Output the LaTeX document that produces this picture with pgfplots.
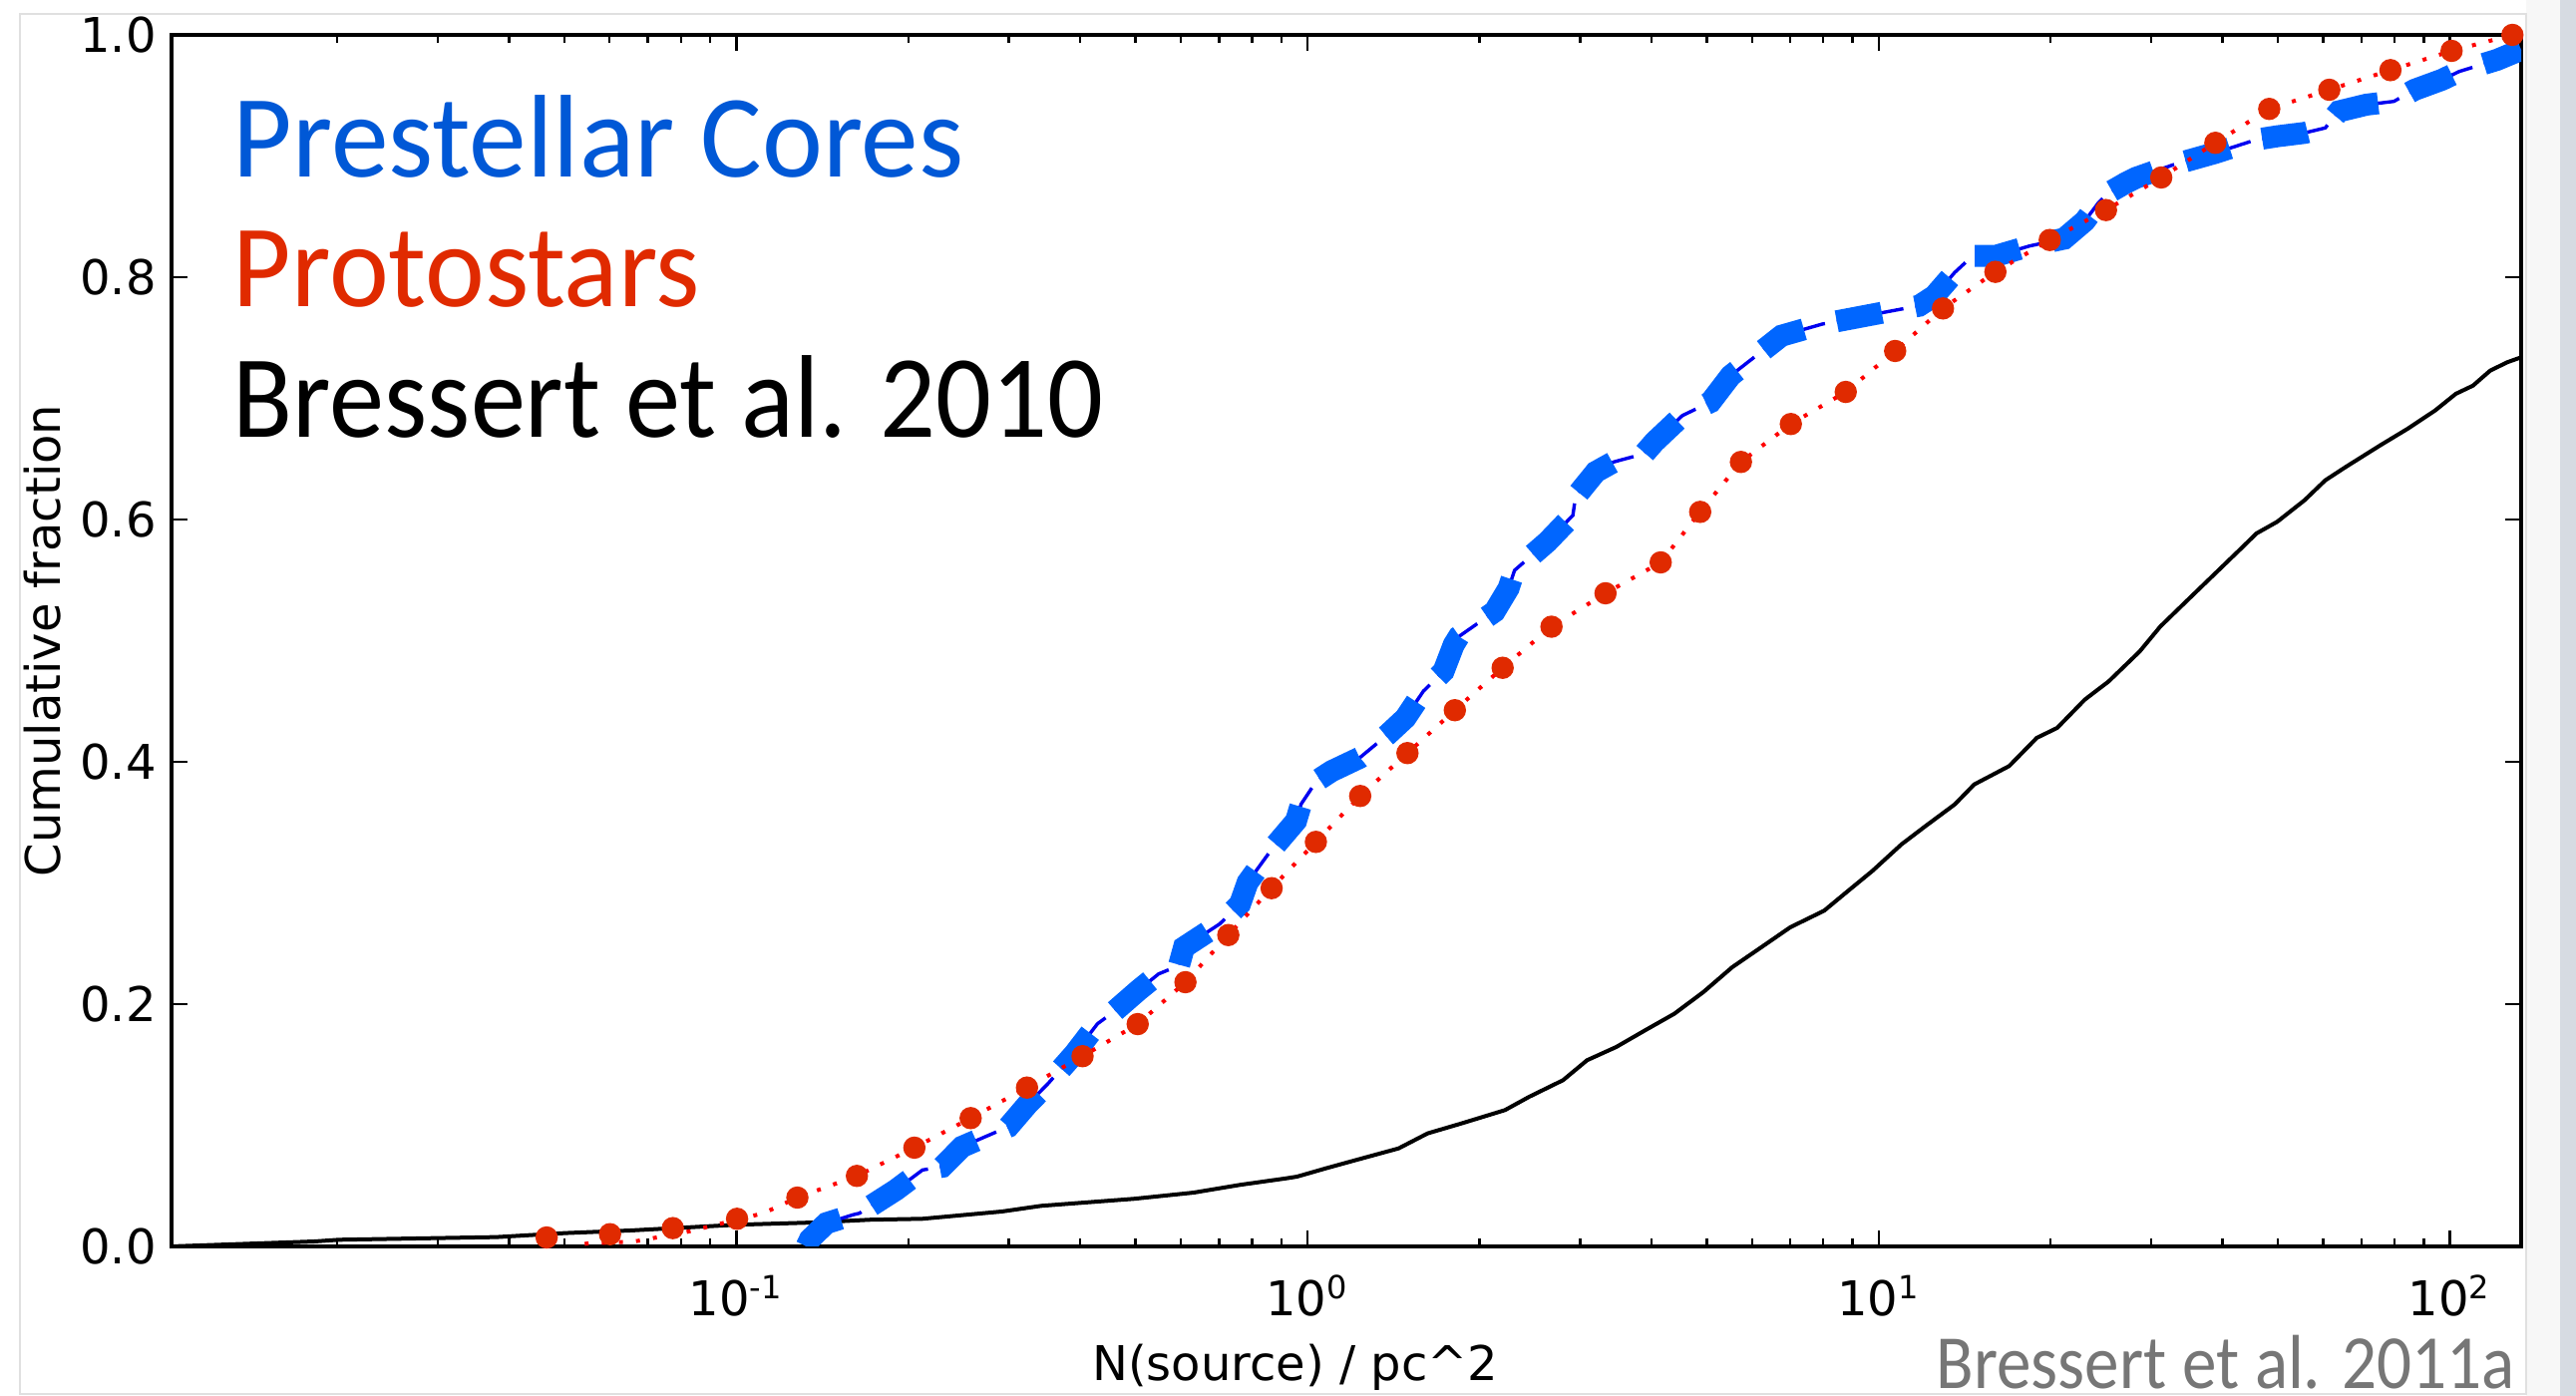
\documentclass[border=0pt]{standalone}
\usepackage{pgfplots}
\pgfplotsset{compat=1.18}
\usepackage{pgfplotstable}
\usepackage{fontspec}
\setmainfont{DejaVu Sans}
\newfontfamily\gill{Carlito}
\definecolor{protored}{RGB}{224,42,0}
\definecolor{presblue}{RGB}{0,88,214}
\definecolor{thickblue}{RGB}{0,102,255}
\definecolor{thinblue}{RGB}{0,0,240}
\definecolor{credgray}{RGB}{118,118,118}
\definecolor{stripgray}{RGB}{214,219,226}

\pgfplotstableread{
x y
0.01026 0.0
0.01825 0.0041
0.02017 0.0055
0.03801 0.0077
0.05013 0.0110
0.06548 0.0132
0.1003 0.0179
0.1381 0.0198
0.1710 0.0220
0.2118 0.0228
0.2916 0.0288
0.3421 0.0335
0.4971 0.0393
0.6318 0.0444
0.7619 0.0508
0.9182 0.0562
0.9587 0.0576
1.076 0.0644
1.1881 0.0700
1.4437 0.0809
1.6232 0.0933
1.8601 0.1015
2.2165 0.1125
2.4443 0.1235
2.8013 0.1372
3.0872 0.1537
3.4715 0.1646
3.9020 0.1784
4.3862 0.1920
4.9318 0.2099
5.5428 0.2305
6.2294 0.2469
7.0019 0.2634
8.0262 0.2771
8.8473 0.2936
9.7544 0.3100
10.965 0.3319
12.091 0.3471
13.594 0.3649
14.697 0.3813
16.924 0.3965
18.92 0.4198
20.54 0.4280
22.95 0.4513
25.28 0.4664
28.64 0.4911
31.13 0.5117
34.76 0.5336
39.39 0.5583
42.80 0.5747
45.86 0.5885
49.85 0.5981
55.67 0.6159
60.50 0.6323
65.74 0.6434
75.52 0.6612
84.36 0.6749
94.25 0.6900
102.40 0.7037
109.77 0.7105
117.66 0.7229
126.07 0.7298
133.3 0.7339
}\bressert

\pgfplotstableread{
x y
0.1327 0.0
0.1345 0.0058
0.1438 0.0192
0.1600 0.0261
0.1643 0.0274
0.1904 0.0467
0.2118 0.0631
0.2294 0.0658
0.2485 0.0823
0.2995 0.0988
0.3244 0.1179
0.3514 0.1344
0.3910 0.1591
0.4289 0.1838
0.4573 0.1934
0.5055 0.2113
0.5486 0.2249
0.5956 0.2318
0.6079 0.2469
0.7017 0.2661
0.7619 0.2826
0.7856 0.3004
0.8617 0.3265
0.9548 0.3512
0.9741 0.3649
1.0364 0.3841
1.1022 0.3923
1.2340 0.4033
1.3813 0.4225
1.4843 0.4362
1.5946 0.4582
1.7306 0.4747
1.8032 0.4966
1.8408 0.5034
2.1261 0.5240
2.2490 0.5432
2.3036 0.5580
2.6305 0.5816
2.9151 0.6035
2.9457 0.6187
3.1972 0.6393
3.4356 0.6475
3.8858 0.6543
4.0487 0.6640
4.5320 0.6858
5.0755 0.6969
5.5081 0.7188
6.1023 0.7352
6.7608 0.7517
7.9653 0.7613
10.195 0.7709
11.769 0.7764
12.518 0.7846
13.588 0.8039
14.596 0.8175
16.01 0.8175
18.39 0.8258
21.12 0.8318
22.95 0.8463
24.26 0.8615
25.28 0.8697
27.10 0.8779
28.25 0.8821
32.89 0.8930
38.86 0.9026
45.86 0.9136
49.85 0.9163
55.67 0.9191
60.50 0.9232
63.95 0.9369
71.45 0.9424
79.80 0.9451
86.77 0.9547
96.92 0.9630
103.85 0.9698
120.93 0.9794
133.3 0.9877
}\prestellar

\pgfplotstableread{
x y
0.04655 0.0074
0.0601 0.0101
0.07743 0.0151
0.1003 0.0228
0.1279 0.0403
0.1626 0.0582
0.2050 0.0815
0.2572 0.1059
0.3228 0.1311
0.4038 0.1570
0.5043 0.1835
0.6114 0.2181
0.7267 0.2570
0.8653 0.2957
1.0344 0.3339
1.2367 0.3718
1.4963 0.4072
1.8113 0.4426
2.196 0.4776
2.674 0.5115
3.325 0.5391
4.153 0.5646
4.870 0.6063
5.739 0.6475
7.018 0.6788
8.757 0.7053
10.686 0.7391
12.958 0.7742
16.01 0.8044
19.93 0.8307
25.0 0.8554
31.24 0.8823
38.86 0.9109
48.28 0.9389
61.51 0.9547
78.71 0.9709
100.7 0.9868
128.7 1.0
}\protomarks

\pgfplotstableread{
x y
0.05426 0.0022
0.06634 0.0041
0.08112 0.0115
0.09264 0.0181
0.1115 0.0274
0.1279 0.0403
0.1626 0.0582
0.2050 0.0815
0.2572 0.1059
0.3228 0.1311
0.4038 0.1570
0.5043 0.1835
0.6114 0.2181
0.7267 0.2570
0.8653 0.2957
1.0344 0.3339
1.2367 0.3718
1.4963 0.4072
1.8113 0.4426
2.196 0.4776
2.674 0.5115
3.325 0.5391
4.153 0.5646
4.870 0.6063
5.739 0.6475
7.018 0.6788
8.757 0.7053
10.686 0.7391
12.958 0.7742
16.01 0.8044
19.93 0.8307
25.0 0.8554
31.24 0.8823
38.86 0.9109
48.28 0.9389
61.51 0.9547
78.71 0.9709
100.7 0.9868
128.7 1.0
}\protoline

\begin{document}
\begin{tikzpicture}
\path[use as bounding box, fill=white] (-43pt,-37.5pt) rectangle (602.75pt,312.5pt);
\fill[black!3] (590.25pt,-37.5pt) rectangle (602.75pt,312.5pt);
\fill[stripgray] (598.75pt,-37.5pt) rectangle (602.75pt,312.5pt);
\draw[black!12, line width=0.5pt] (-38pt,-37pt) rectangle (590.25pt,309pt);
\begin{axis}[
  scale only axis,
  width=589pt, height=303.75pt,
  xmode=log,
  xmin=0.01026, xmax=133.3,
  ymin=0, ymax=1,
  xtick={0.1,1,10,100},
  xticklabels={10\textsuperscript{-1},10\textsuperscript{0},10\textsuperscript{1},10\textsuperscript{2}},
  minor xtick={0.02,0.03,0.04,0.05,0.06,0.07,0.08,0.09,0.2,0.3,0.4,0.5,0.6,0.7,0.8,0.9,2,3,4,5,6,7,8,9,20,30,40,50,60,70,80,90},
  ytick={0,0.2,0.4,0.6,0.8,1},
  yticklabels={0.0,0.2,0.4,0.6,0.8,1.0},
  tick align=inside,
  major tick length=4pt,
  minor tick length=2pt,
  every tick/.style={black, line width=0.6pt},
  axis line style={line width=1.1pt},
  ticklabel style={font=\fontsize{12}{14}\selectfont},
  xticklabel style={anchor=base, yshift=-17.5pt, inner sep=0pt},
  yticklabel style={anchor=east, xshift=-3.6pt, inner sep=0pt},
  xlabel={N(source) / pc\textasciicircum 2},
  ylabel={Cumulative fraction},
  xlabel style={at={(axis description cs:0.4783,-0.1111)}, anchor=base, inner sep=0pt, font=\fontsize{12}{14}\selectfont},
  ylabel style={at={(axis description cs:-0.0475,0.5)}, anchor=base, inner sep=0pt, font=\fontsize{12}{14}\selectfont},
  clip mode=individual,
]
\addplot[black, line width=1pt] table {\bressert};
\addplot[thinblue, line width=0.85pt, dash pattern=on 7pt off 3pt] table {\prestellar};
\addplot[thickblue, line width=5.5pt, dash pattern=on 11.5pt off 8.5pt] table {\prestellar};
\addplot[red, line width=1pt, dash pattern=on 1pt off 3.3pt] table {\protoline};
\addplot[only marks, color=protored, mark=*, mark size=2.6pt] table {\protomarks};
\node[anchor=base west, inner sep=0pt, xscale=0.978, text=presblue, font=\gill\fontsize{29.5}{30}\selectfont] at (axis description cs:0.0259,0.8823) {Prestellar Cores};
\node[anchor=base west, inner sep=0pt, xscale=0.96, text=protored, font=\gill\fontsize{29.5}{30}\selectfont] at (axis description cs:0.0259,0.7753) {Protostars};
\node[anchor=base west, inner sep=0pt, xscale=0.935, text=black, font=\gill\fontsize{29.5}{30}\selectfont] at (axis description cs:0.0259,0.6675) {Bressert et al. 2010};
\node[anchor=base west, inner sep=0pt, xscale=0.9, text=credgray, font=\gill\fontsize{19.2}{20}\selectfont] at (axis description cs:0.7508,-0.1169) {Bressert et al. 2011a};
\end{axis}
\end{tikzpicture}
\end{document}
